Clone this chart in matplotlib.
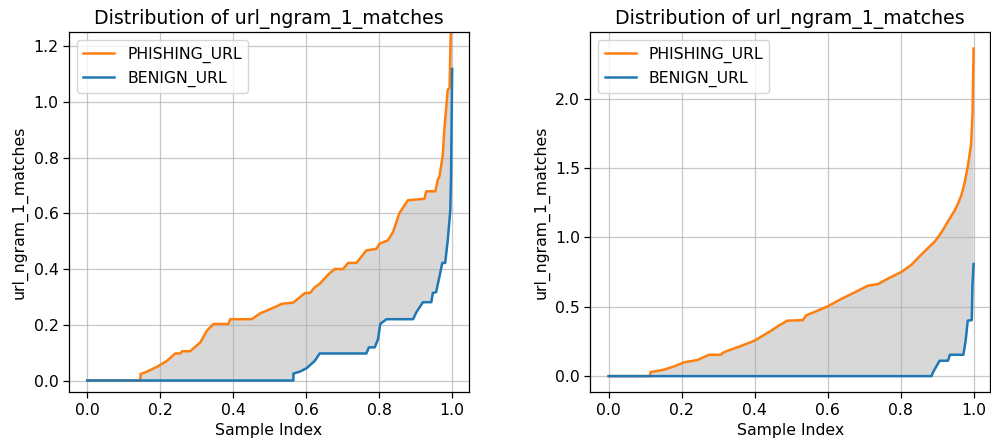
import numpy as np
import matplotlib
import matplotlib.pyplot as plt

matplotlib.use("Agg")

FEATURE = "url_ngram_1_matches"

# left panel (y axis clipped at 1.25)
left_phish_x = [0.0, 0.146, 0.146, 0.164, 0.191, 0.219, 0.241, 0.255, 0.26, 0.282, 0.31, 0.328,
                0.346, 0.387, 0.392, 0.451, 0.474, 0.51, 0.533, 0.565, 0.597, 0.61, 0.624, 0.637,
                0.665, 0.678, 0.701, 0.715, 0.738, 0.765, 0.792, 0.801, 0.824, 0.838, 0.856, 0.879,
                0.924, 0.929, 0.954, 0.961, 0.965, 0.974, 0.979, 0.988, 0.993, 0.997, 1.0]
left_phish_y = [0.0, 0.0, 0.023, 0.032, 0.049, 0.071, 0.097, 0.097, 0.105, 0.105, 0.137, 0.179,
                0.203, 0.203, 0.22, 0.22, 0.241, 0.261, 0.275, 0.28, 0.314, 0.314, 0.335, 0.347,
                0.386, 0.4, 0.4, 0.422, 0.422, 0.467, 0.472, 0.491, 0.503, 0.533, 0.602, 0.647,
                0.652, 0.679, 0.679, 0.722, 0.731, 0.804, 0.906, 1.044, 1.05, 1.3, 1.6]
left_benign_x = [0.0, 0.565, 0.565, 0.583, 0.601, 0.624, 0.637, 0.765, 0.772, 0.788, 0.797, 0.803,
                 0.82, 0.893, 0.902, 0.92, 0.943, 0.947, 0.956, 0.965, 0.973, 0.981, 0.988, 0.995,
                 0.997, 1.0]
left_benign_y = [0.0, 0.0, 0.025, 0.032, 0.044, 0.071, 0.097, 0.097, 0.119, 0.119, 0.149, 0.203,
                 0.22, 0.22, 0.245, 0.281, 0.281, 0.314, 0.317, 0.371, 0.422, 0.422, 0.503, 0.611,
                 0.731, 1.118]

# right panel
right_phish_x = [0.0, 0.113, 0.115, 0.151, 0.179, 0.206, 0.243, 0.275, 0.307, 0.316, 0.362, 0.399,
                 0.445, 0.467, 0.49, 0.532, 0.541, 0.568, 0.6, 0.637, 0.674, 0.71, 0.738, 0.765,
                 0.802, 0.83, 0.852, 0.875, 0.894, 0.912, 0.93, 0.948, 0.958, 0.967, 0.976, 0.985,
                 0.993, 0.997, 1.0]
right_phish_y = [0.0, 0.0, 0.029, 0.046, 0.07, 0.099, 0.116, 0.154, 0.154, 0.173, 0.217, 0.255,
                 0.327, 0.366, 0.4, 0.404, 0.438, 0.467, 0.503, 0.556, 0.604, 0.652, 0.664, 0.703,
                 0.751, 0.804, 0.864, 0.924, 0.972, 1.037, 1.117, 1.194, 1.249, 1.309, 1.401, 1.526,
                 1.67, 1.887, 2.363]
right_benign_x = [0.0, 0.885, 0.889, 0.898, 0.907, 0.93, 0.935, 0.972, 0.978, 0.984, 0.995, 0.997, 1.0]
right_benign_y = [0.0, 0.0, 0.029, 0.07, 0.111, 0.111, 0.154, 0.154, 0.25, 0.4, 0.404, 0.659, 0.809]

panels = [
    (left_phish_x, left_phish_y, left_benign_x, left_benign_y, (-0.043, 1.25)),
    (right_phish_x, right_phish_y, right_benign_x, right_benign_y, None),
]

fig, axes = plt.subplots(1, 2, figsize=(9.91, 4.41), dpi=100)
fig.subplots_adjust(left=0.0696, right=0.999, bottom=0.11, top=0.927, wspace=0.305)

for ax, (px, py, bx, by, ylim) in zip(axes, panels):
    # shaded gap between the two curves
    poly_x = np.concatenate([px, bx[::-1]])
    poly_y = np.concatenate([py, by[::-1]])
    ax.fill(poly_x, poly_y, color="gray", alpha=0.3, linewidth=0)
    ax.plot(px, py, color="#ff7f0e", lw=1.8, label="PHISHING_URL")
    ax.plot(bx, by, color="#1f77b4", lw=1.8, label="BENIGN_URL")
    ax.set_title(f"Distribution of {FEATURE}", fontsize=13.6)
    ax.set_xlabel("Sample Index", fontsize=11.3)
    ax.set_ylabel(FEATURE, fontsize=11.3)
    ax.set_xlim(-0.05, 1.045)
    if ylim is not None:
        ax.set_ylim(*ylim)
    ax.set_xticks([0.0, 0.2, 0.4, 0.6, 0.8, 1.0])
    ax.grid(True, color="#b0b0b0", alpha=0.7, lw=0.9)
    ax.tick_params(labelsize=11.3, length=4, width=0.9)
    for sp in ax.spines.values():
        sp.set_linewidth(0.9)
    ax.legend(loc="upper left", fontsize=11.3)

fig.savefig("out.png", dpi=100)
